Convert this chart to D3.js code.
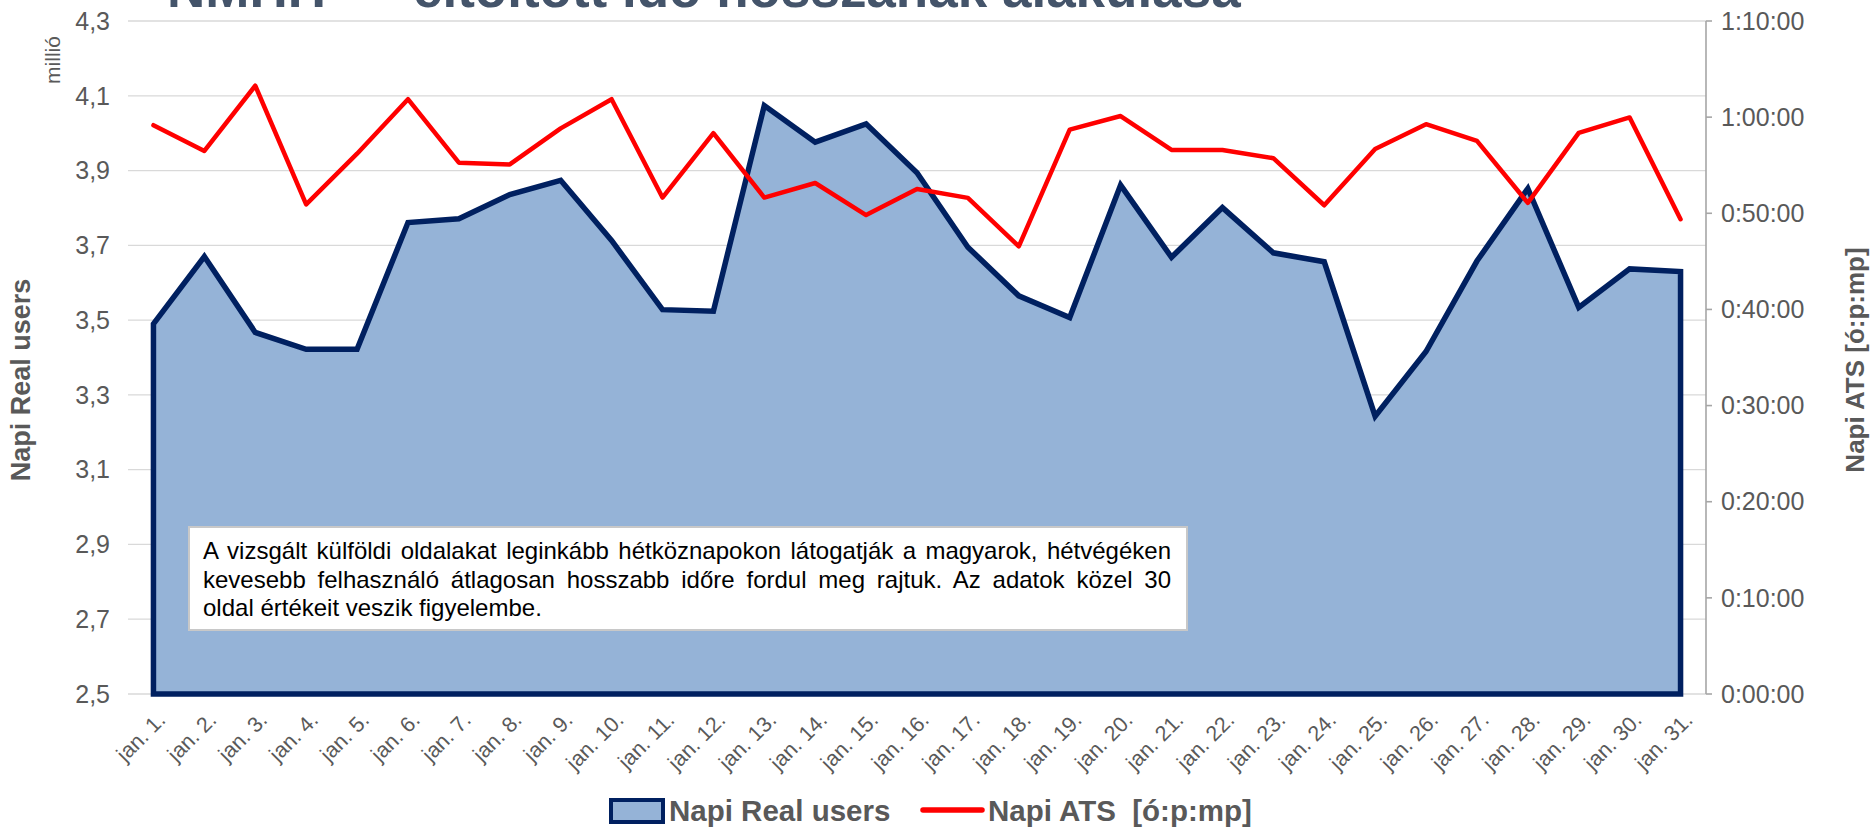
<!DOCTYPE html>
<html>
<head>
<meta charset="utf-8">
<script src="https://cdn.jsdelivr.net/npm/d3@7"></script>
<style>
  html, body { margin: 0; padding: 0; background: #ffffff; }
  svg { display: block; }
  text { font-family: "Liberation Sans", Arial, sans-serif; }
</style>
</head>
<body>
<svg id="chart" width="1876" height="829"></svg>
<script>
// ---------------- DATA ----------------
const days = ["jan. 1.","jan. 2.","jan. 3.","jan. 4.","jan. 5.","jan. 6.","jan. 7.","jan. 8.","jan. 9.","jan. 10.",
  "jan. 11.","jan. 12.","jan. 13.","jan. 14.","jan. 15.","jan. 16.","jan. 17.","jan. 18.","jan. 19.","jan. 20.",
  "jan. 21.","jan. 22.","jan. 23.","jan. 24.","jan. 25.","jan. 26.","jan. 27.","jan. 28.","jan. 29.","jan. 30.","jan. 31."];

// Napi Real users (millió)
const realUsers = [3.49, 3.67, 3.467, 3.422, 3.422, 3.761, 3.771, 3.836, 3.874, 3.713,
  3.528, 3.524, 4.074, 3.976, 4.025, 3.894, 3.695, 3.565, 3.507, 3.861,
  3.668, 3.801, 3.68, 3.656, 3.243, 3.416, 3.658, 3.852, 3.534, 3.637, 3.63];

// Napi ATS (ó:p:mp)
const ats = ["0:59:10","0:56:29","1:03:16","0:50:56","0:56:12","1:01:52","0:55:16","0:55:05","0:58:50","1:01:52",
  "0:51:38","0:58:20","0:51:38","0:53:09","0:49:49","0:52:32","0:51:36","0:46:34","0:58:42","1:00:07",
  "0:56:35","0:56:35","0:55:44","0:50:50","0:56:41","0:59:16","0:57:32","0:51:05","0:58:22","0:59:58","0:49:23"];

const leftTicks = [2.5, 2.7, 2.9, 3.1, 3.3, 3.5, 3.7, 3.9, 4.1, 4.3];
const rightTicks = ["0:00:00","0:10:00","0:20:00","0:30:00","0:40:00","0:50:00","1:00:00","1:10:00"];

const seriesNames = ["Napi Real users", "Napi ATS  [ó:p:mp]"];
const leftTitle = "Napi Real users";
const rightTitle = "Napi ATS [ó:p:mp]";
const unitLabel = "millió";
const titleParts = ["NMHH", "eltöltött idő hosszának alakulása"];
const noteLines = [
  "A vizsgált külföldi oldalakat leginkább hétköznapokon látogatják a magyarok, hétvégéken",
  "kevesebb felhasználó átlagosan hosszabb időre fordul meg rajtuk. Az adatok közel 30",
  "oldal értékeit veszik figyelembe."
];

// ---------------- HELPERS ----------------
const toSec = s => { const [h, m, ss] = s.split(":").map(Number); return h * 3600 + m * 60 + ss; };
const atsSec = ats.map(toSec);
const rightTickSec = rightTicks.map(toSec);
const huFmt = d3.formatLocale({decimal: ",", thousands: " ", grouping: [3], currency: ["", " Ft"]}).format(".1f");

// ---------------- LAYOUT ----------------
const svg = d3.select("#chart");
const L = 128, R = 1706, T = 21, B = 694;
const grey = "#595959";

const x = d3.scalePoint().domain(days).range([L, R]).padding(0.5);
const yL = d3.scaleLinear().domain([2.5, 4.3]).range([B, T]);
const yR = d3.scaleLinear().domain([0, toSec("1:10:00")]).range([B, T]);

// Title (cut off by the top edge, as in the reference)
const titleG = svg.append("g");
titleG.append("text").attr("x", 167).attr("y", 7).text(titleParts[0])
  .attr("font-size", 53).attr("font-weight", "bold").attr("fill", "#44546a");
titleG.append("text").attr("x", 413).attr("y", 7).text(titleParts[1])
  .attr("font-size", 53).attr("font-weight", "bold").attr("fill", "#44546a");

// Gridlines
svg.append("g").selectAll("line").data(leftTicks).join("line")
  .attr("x1", L).attr("x2", R)
  .attr("y1", d => yL(d)).attr("y2", d => yL(d))
  .attr("stroke", "#d9d9d9").attr("stroke-width", 1.3);

// Area
const area = d3.area().x((d, i) => x(days[i])).y0(yL(2.5)).y1(d => yL(d));
svg.append("path").datum(realUsers)
  .attr("d", d => area(d))
  .attr("fill", "#95b3d7").attr("stroke", "#002060").attr("stroke-width", 5.5)
  .attr("stroke-linejoin", "miter");

// Red line
const line = d3.line().x((d, i) => x(days[i])).y(d => yR(d));
svg.append("path").datum(atsSec)
  .attr("d", line)
  .attr("fill", "none").attr("stroke", "#ff0000").attr("stroke-width", 4.5)
  .attr("stroke-linejoin", "round").attr("stroke-linecap", "round");

// Left axis labels
svg.append("g").selectAll("text").data(leftTicks).join("text")
  .attr("x", 110).attr("y", d => yL(d)).attr("dy", "0.35em")
  .attr("text-anchor", "end").attr("font-size", 25).attr("fill", grey)
  .text(d => huFmt(d));

// Right axis
const rg = svg.append("g");
rg.append("line").attr("x1", R).attr("x2", R).attr("y1", T).attr("y2", B)
  .attr("stroke", "#a6a6a6").attr("stroke-width", 1.6);
rg.selectAll("line.tk").data(rightTickSec).join("line").attr("class", "tk")
  .attr("x1", R).attr("x2", R + 6).attr("y1", d => yR(d)).attr("y2", d => yR(d))
  .attr("stroke", "#a6a6a6").attr("stroke-width", 1.6);
rg.selectAll("text").data(rightTicks).join("text")
  .attr("x", 1721).attr("y", d => yR(toSec(d))).attr("dy", "0.35em")
  .attr("font-size", 25).attr("fill", grey).text(d => d);

// X labels
svg.append("g").selectAll("text").data(days).join("text")
  .attr("transform", d => `translate(${x(d) + 8},716) rotate(-45)`)
  .attr("dy", "0.35em").attr("text-anchor", "end")
  .attr("font-size", 21.5).attr("fill", grey).text(d => d);

// Axis titles
svg.append("text").attr("transform", "translate(30,380) rotate(-90)")
  .attr("text-anchor", "middle").attr("font-size", 27).attr("font-weight", "bold")
  .attr("fill", grey).text(leftTitle);
svg.append("text").attr("transform", "translate(1864,360) rotate(-90)")
  .attr("text-anchor", "middle").attr("font-size", 26).attr("font-weight", "bold")
  .attr("fill", grey).text(rightTitle);
svg.append("text").attr("transform", "translate(60,60) rotate(-90)")
  .attr("text-anchor", "middle").attr("font-size", 21).attr("fill", grey).text(unitLabel);

// Note box
const boxX = 189, boxY = 527, boxW = 998, boxH = 103;
svg.append("rect").attr("x", boxX).attr("y", boxY).attr("width", boxW).attr("height", boxH)
  .attr("fill", "#ffffff").attr("stroke", "#c8c8c8").attr("stroke-width", 2);
const textL = 203, textR = 1171;
noteLines.forEach((ln, i) => {
  const t = svg.append("text").attr("x", textL).attr("y", 559 + i * 28.5)
    .attr("font-size", 24).attr("fill", "#000000").style("white-space", "pre").text(ln);
  if (i < noteLines.length - 1) {
    const w = t.node().getComputedTextLength();
    const spaces = (ln.match(/ /g) || []).length;
    const ws = (textR - textL - w) / spaces;
    t.attr("word-spacing", ws);
  }
});

// Legend
const lg = svg.append("g");
lg.append("rect").attr("x", 611).attr("y", 800).attr("width", 52).attr("height", 22)
  .attr("fill", "#95b3d7").attr("stroke", "#002060").attr("stroke-width", 4);
lg.append("text").attr("x", 669).attr("y", 821).attr("font-size", 29.5).attr("font-weight", "bold")
  .attr("fill", grey).text(seriesNames[0]);
lg.append("line").attr("x1", 923).attr("x2", 982).attr("y1", 810).attr("y2", 810)
  .attr("stroke", "#ff0000").attr("stroke-width", 5.5).attr("stroke-linecap", "round");
lg.append("text").attr("x", 988).attr("y", 821).attr("font-size", 29.5).attr("font-weight", "bold")
  .attr("fill", grey).style("white-space", "pre").text(seriesNames[1]);
</script>
</body>
</html>
